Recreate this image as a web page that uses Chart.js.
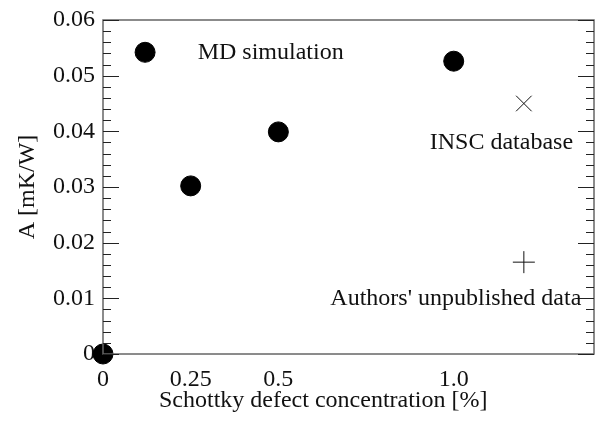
<!DOCTYPE html>
<html><head><meta charset="utf-8">
<script src="https://cdn.jsdelivr.net/npm/chart.js@4"></script>
<style>html,body{margin:0;padding:0;background:#fff}#wrap{width:606px;height:423px}</style>
</head><body><div id="wrap"><canvas id="c" width="606" height="423"></canvas></div>
<script>
const mdX = [0, 0.12, 0.25, 0.5, 1.0];
const mdY = [0, 0.0542, 0.0302, 0.0399, 0.0526];
const inscX = [1.2];
const inscY = [0.045];
const authX = [1.2];
const authY = [0.0165];
const xTicks = [0, 0.25, 0.5, 1.0];
const xTickLabels = ['0', '0.25', '0.5', '1.0'];
const yTicks = [0, 0.01, 0.02, 0.03, 0.04, 0.05, 0.06];
const yTickLabels = ['0', '0.01', '0.02', '0.03', '0.04', '0.05', '0.06'];
const xTitle = 'Schottky defect concentration [%]';
const yTitle = 'A [mK/W]';
const annotations = [
  {text: 'MD simulation', x: 0.27, y: 0.0542, align: 'left'},
  {text: 'INSC database', x: 1.136, y: 0.0379, align: 'center'},
  {text: "Authors' unpublished data", x: 1.006, y: 0.0099, align: 'center'}
];
const FONT = '"Liberation Serif", "Times New Roman", serif';
const FS = 24;

const pts = (xs, ys) => xs.map((x, i) => ({x, y: ys[i]}));

const framePlugin = {
  id: 'frame',
  afterDatasetsDraw(chart) {
    const {ctx, chartArea: a, scales: {x, y}} = chart;
    ctx.save();
    ctx.strokeStyle = '#666';
    ctx.lineWidth = 1.5;
    ctx.strokeRect(a.left, a.top, a.right - a.left, a.bottom - a.top);
    ctx.strokeStyle = '#222';
    ctx.lineWidth = 1;
    for (let i = 0; i <= 30; i++) {
      const v = i * 0.002;
      const py = Math.round(y.getPixelForValue(v)) + 0.5;
      const len = (i % 5 === 0) ? 16 : 8;
      ctx.beginPath();
      ctx.moveTo(a.left, py); ctx.lineTo(a.left + len, py);
      ctx.moveTo(a.right, py); ctx.lineTo(a.right - len, py);
      ctx.stroke();
    }
    ctx.fillStyle = '#111';
    ctx.font = FS + 'px ' + FONT;
    ctx.textBaseline = 'middle';
    annotations.forEach(an => {
      ctx.textAlign = an.align;
      ctx.fillText(an.text, x.getPixelForValue(an.x), y.getPixelForValue(an.y));
    });
    // x-axis title (placed slightly left of centre, as in the original)
    ctx.textAlign = 'center';
    ctx.textBaseline = 'alphabetic';
    ctx.fillText(xTitle, x.getPixelForValue(0.628), a.bottom + 53);
    ctx.restore();
  }
};

new Chart(document.getElementById('c'), {
  type: 'scatter',
  data: {
    datasets: [
      {label: 'MD simulation', data: pts(mdX, mdY), pointStyle: 'circle', pointRadius: 10,
       backgroundColor: '#000', borderColor: '#000', clip: false},
      {label: 'INSC database', data: pts(inscX, inscY), pointStyle: 'crossRot', pointRadius: 11,
       borderColor: '#111', borderWidth: 1, clip: false},
      {label: "Authors' unpublished data", data: pts(authX, authY), pointStyle: 'cross', pointRadius: 11,
       borderColor: '#111', borderWidth: 1, clip: false}
    ]
  },
  options: {
    responsive: false,
    animation: false,
    events: [],
    layout: {padding: {left: 0, right: 9, top: 20, bottom: 0}},
    plugins: {legend: {display: false}, tooltip: {enabled: false}},
    scales: {
      x: {
        type: 'linear', min: 0, max: 1.4,
        afterBuildTicks: s => { s.ticks = xTicks.map(v => ({value: v})); },
        afterFit: s => { s.height = 69; s.paddingLeft = 0; s.paddingRight = 0; },
        grid: {display: false, drawTicks: false},
        border: {display: false},
        ticks: {padding: 11, color: '#111', font: {family: FONT, size: FS},
                callback: (v) => xTickLabels[xTicks.indexOf(v)] ?? ''},
        title: {display: false}
      },
      y: {
        type: 'linear', min: 0, max: 0.06,
        afterBuildTicks: s => { s.ticks = yTicks.map(v => ({value: v})); },
        afterFit: s => { s.width = 103; s.paddingTop = 0; s.paddingBottom = 0; },
        grid: {display: false, drawTicks: false},
        border: {display: false},
        ticks: {padding: 8, color: '#111', font: {family: FONT, size: FS},
                callback: (v) => { const i = yTicks.findIndex(t => Math.abs(t - v) < 1e-9); return i >= 0 ? yTickLabels[i] : ''; }},
        title: {display: true, text: yTitle, color: '#111',
                font: {family: FONT, size: FS}, padding: {top: 13, bottom: 0}}
      }
    }
  },
  plugins: [framePlugin]
});
</script>
</body></html>
